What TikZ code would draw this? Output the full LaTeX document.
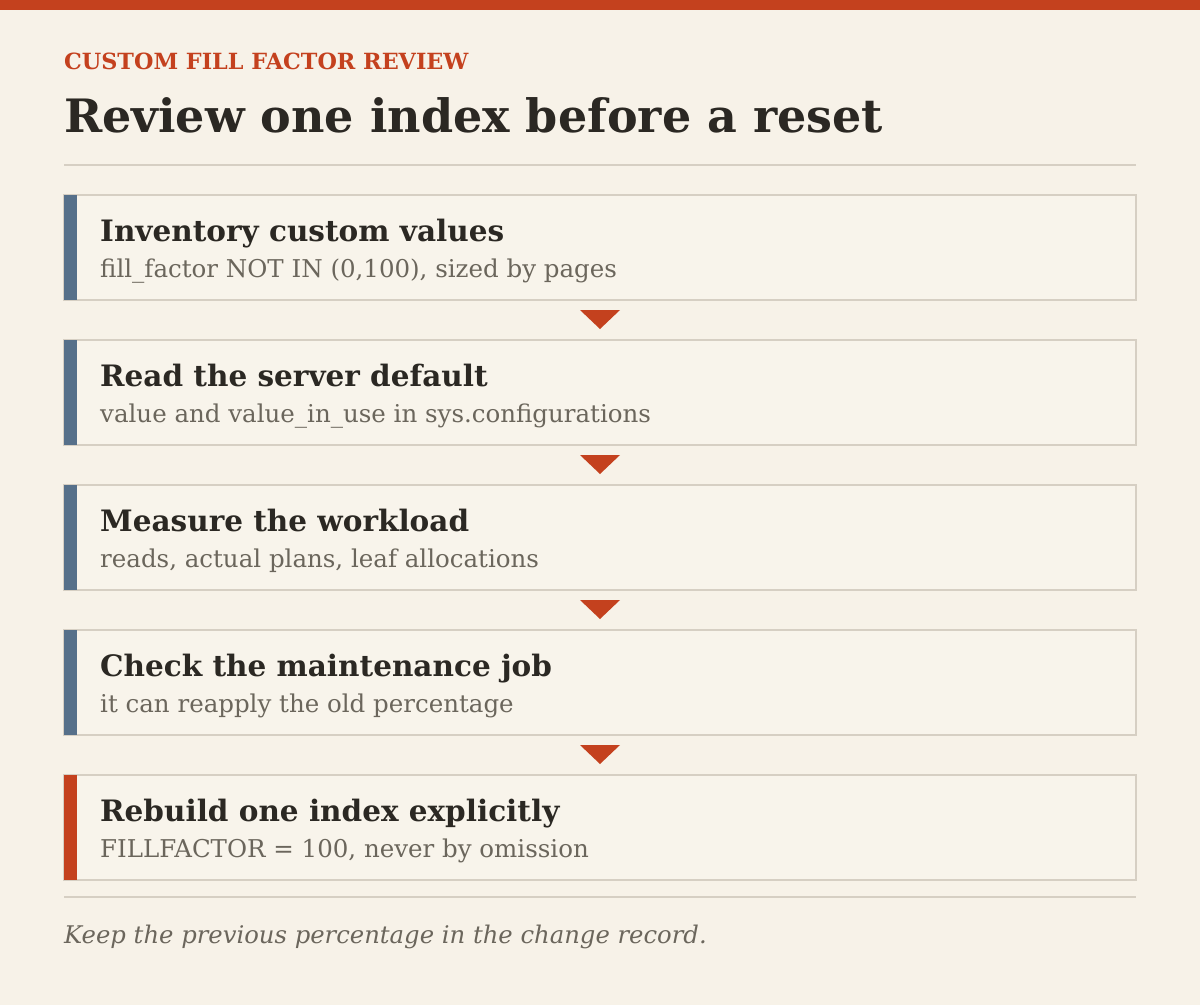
\documentclass[tikz,border=0pt]{standalone}
\usepackage{fontspec}
\setmainfont{DejaVu Serif}
\usetikzlibrary{calc}
\definecolor{paper}{HTML}{F7F2E8}
\definecolor{boxfill}{HTML}{F8F4EB}
\definecolor{rust}{HTML}{C4411E}
\definecolor{slate}{HTML}{56708A}
\definecolor{ink}{HTML}{2B2823}
\definecolor{muted}{HTML}{6B665C}
\definecolor{rule}{HTML}{D6CFC3}
\tikzset{
  stepbox/.style={draw=rule, line width=2pt, fill=boxfill, minimum width=1072pt, minimum height=105pt, inner sep=0pt, outer sep=0pt},
  steptitle/.style={anchor=base west, inner sep=0pt, text=ink, font=\fontsize{29.5}{34}\selectfont\bfseries},
  stepnote/.style={anchor=base west, inner sep=0pt, text=muted, font=\fontsize{24.5}{29}\selectfont},
  marker/.style={fill=rust}
}
\begin{document}
\begin{tikzpicture}[x=1pt,y=-1pt]
\fill[paper] (0,0) rectangle (1200,1005);
\fill[rust] (0,0) rectangle (1200,10);
% heading
\node[anchor=base west, inner sep=0pt, text=rust, font=\fontsize{22.3}{26}\selectfont\bfseries] (kicker) at (64,69) {CUSTOM FILL FACTOR REVIEW};
\node[anchor=base west, inner sep=0pt, text=ink, font=\fontsize{46}{54}\selectfont\bfseries] (title) at (64,132) {Review one index before a reset};
\draw[rule, line width=2pt] (64,165) -- (1136,165);
% steps
\node[stepbox] (s1) at (600,247.5) {};
\fill[slate] (s1.north west) rectangle ++(13,105);
\node[steptitle] (t1) at (100,241) {Inventory custom values};
\node[stepnote] (d1) at (100,277) {fill\_factor NOT IN (0,100), sized by pages};
\node[stepbox] (s2) at (600,392.5) {};
\fill[slate] (s2.north west) rectangle ++(13,105);
\node[steptitle] (t2) at (100,386) {Read the server default};
\node[stepnote] (d2) at (100,422) {value and value\_in\_use in sys.configurations};
\node[stepbox] (s3) at (600,537.5) {};
\fill[slate] (s3.north west) rectangle ++(13,105);
\node[steptitle] (t3) at (100,531) {Measure the workload};
\node[stepnote] (d3) at (100,567) {reads, actual plans, leaf allocations};
\node[stepbox] (s4) at (600,682.5) {};
\fill[slate] (s4.north west) rectangle ++(13,105);
\node[steptitle] (t4) at (100,676) {Check the maintenance job};
\node[stepnote] (d4) at (100,712) {it can reapply the old percentage};
\node[stepbox] (s5) at (600,827.5) {};
\fill[rust] (s5.north west) rectangle ++(13,105);
\node[steptitle] (t5) at (100,821) {Rebuild one index explicitly};
\node[stepnote] (d5) at (100,857) {FILLFACTOR = 100, never by omission};
% markers between steps
\coordinate (m1) at ($(s1.south)!0.5!(s2.north)$);
\fill[marker] ($(m1)+(-20,-10)$) -- ($(m1)+(20,-10)$) -- ($(m1)+(0,9)$) -- cycle;
\coordinate (m2) at ($(s2.south)!0.5!(s3.north)$);
\fill[marker] ($(m2)+(-20,-10)$) -- ($(m2)+(20,-10)$) -- ($(m2)+(0,9)$) -- cycle;
\coordinate (m3) at ($(s3.south)!0.5!(s4.north)$);
\fill[marker] ($(m3)+(-20,-10)$) -- ($(m3)+(20,-10)$) -- ($(m3)+(0,9)$) -- cycle;
\coordinate (m4) at ($(s4.south)!0.5!(s5.north)$);
\fill[marker] ($(m4)+(-20,-10)$) -- ($(m4)+(20,-10)$) -- ($(m4)+(0,9)$) -- cycle;
% footer
\draw[rule, line width=2pt] (64,897) -- (1136,897);
\node[anchor=base west, inner sep=0pt, text=muted, font=\fontsize{24.3}{29}\selectfont\itshape] (note) at (64,943) {Keep the previous percentage in the change record.};
\end{tikzpicture}
\end{document}
